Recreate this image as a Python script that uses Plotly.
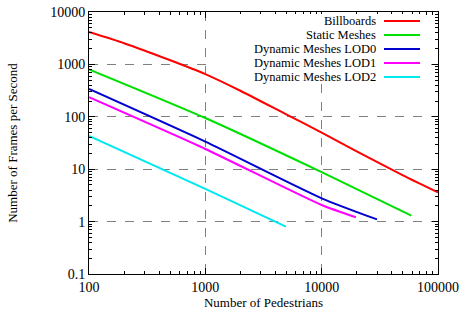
import plotly.graph_objects as go

# ---- data ----
billboards_n = [100, 200, 500, 1000, 2000, 5000, 10000, 20000, 50000, 100000]
billboards_fps = [4150, 2540, 1200, 653, 314, 110, 50, 22, 7.6, 3.6]

static_n = [100, 1000, 10000, 59000]
static_fps = [805, 95, 8.8, 1.3]

lod0_n = [100, 1000, 10000, 29900]
lod0_fps = [339, 33.5, 2.78, 1.1]

lod1_n = [100, 1000, 10000, 19700]
lod1_fps = [236, 24.3, 2.07, 1.21]

lod2_n = [100, 1000, 4930]
lod2_fps = [43, 4.2, 0.8]

series_names = ["Billboards", "Static Meshes", "Dynamic Meshes LOD0",
                "Dynamic Meshes LOD1", "Dynamic Meshes LOD2"]
series_colors = ["#ff0000", "#00e000", "#0000d0", "#ff00ff", "#00e8f0"]

x_tickvals = [100, 1000, 10000, 100000]
x_ticktext = ["100", "1000", "10000", "100000"]
y_tickvals = [0.1, 1, 10, 100, 1000, 10000]
y_ticktext = ["0.1", "1", "10", "100", "1000", "10000"]

FONT = "Liberation Serif, Times New Roman, serif"

x_minor = [m * 10 ** e for e in range(2, 5) for m in range(2, 10)]
y_minor = [m * 10.0 ** e for e in range(-1, 4) for m in range(2, 10)]

# plot area in window px: x 89..438, y 12..274 (page body margin removed below)
W, H = 459, 320
ML, MR, MT, MB = 89, 21, 12, 46

fig = go.Figure()
data = [(billboards_n, billboards_fps), (static_n, static_fps),
        (lod0_n, lod0_fps), (lod1_n, lod1_fps), (lod2_n, lod2_fps)]
for (xs, ys), name, col in zip(data, series_names, series_colors):
    fig.add_trace(go.Scatter(x=xs, y=ys, mode="lines", name=name,
                             line=dict(color=col, width=2, shape="spline", smoothing=0.6),
                             showlegend=False))

axis_common = dict(
    type="log", showline=True, linecolor="black", linewidth=1, mirror="allticks",
    ticks="inside", ticklen=6, tickcolor="black", automargin=False,
    ticklabeloverflow="allow",
    showgrid=True, gridcolor="#808080", griddash="dash", gridwidth=1,
    zeroline=False, tickfont=dict(family=FONT, size=14, color="black"),
)

fig.update_layout(
    width=W, height=H,
    margin=dict(l=ML, r=MR, t=MT, b=MB),
    paper_bgcolor="white", plot_bgcolor="white",
    font=dict(family=FONT, size=13, color="black"),
    xaxis=dict(axis_common, range=[2, 5], tickvals=x_tickvals, ticktext=x_ticktext,
               minor=dict(tickvals=x_minor, ticks="inside", ticklen=3,
                          tickcolor="black", showgrid=False),
               title=dict(text="Number of Pedestrians", font=dict(family=FONT, size=13),
                          standoff=3)),
    yaxis=dict(axis_common, range=[-1, 4], tickvals=y_tickvals, ticktext=y_ticktext,
               minor=dict(tickvals=y_minor, ticks="inside", ticklen=3,
                          tickcolor="black", showgrid=False),
               title=dict(text="Number of Frames per Second", font=dict(family=FONT, size=13),
                          standoff=29)),
    showlegend=False,
)

# ---- manual gnuplot-style legend (opaque key box, text right, sample on the right) ----
PW = W - ML - MR
PH = H - MT - MB


def px_x(x):
    return (x - ML) / PW


def px_y(y):
    return (H - MB - y) / PH


fig.add_shape(type="rect", xref="paper", yref="paper", x0=px_x(215), x1=px_x(426),
              y0=px_y(70), y1=px_y(14), fillcolor="white", line=dict(width=0), layer="above")
fig.add_shape(type="rect", xref="paper", yref="paper", x0=px_x(232), x1=px_x(426),
              y0=px_y(84), y1=px_y(70), fillcolor="white", line=dict(width=0), layer="above")

row_y_px = [21, 35, 49, 63, 77]
for name, col, ypx in zip(series_names, series_colors, row_y_px):
    yp = px_y(ypx)
    fig.add_annotation(xref="paper", yref="paper", x=px_x(377), y=yp, text=name,
                       showarrow=False, xanchor="right", yanchor="middle", borderpad=0,
                       font=dict(family=FONT, size=12.5, color="black"))
    fig.add_shape(type="line", xref="paper", yref="paper", x0=px_x(384), x1=px_x(420),
                  y0=yp, y1=yp, line=dict(color=col, width=2), layer="above")

fig.write_html("out.html", config={"displayModeBar": False},
               post_script="document.body.style.margin='0';document.body.style.padding='0';")
